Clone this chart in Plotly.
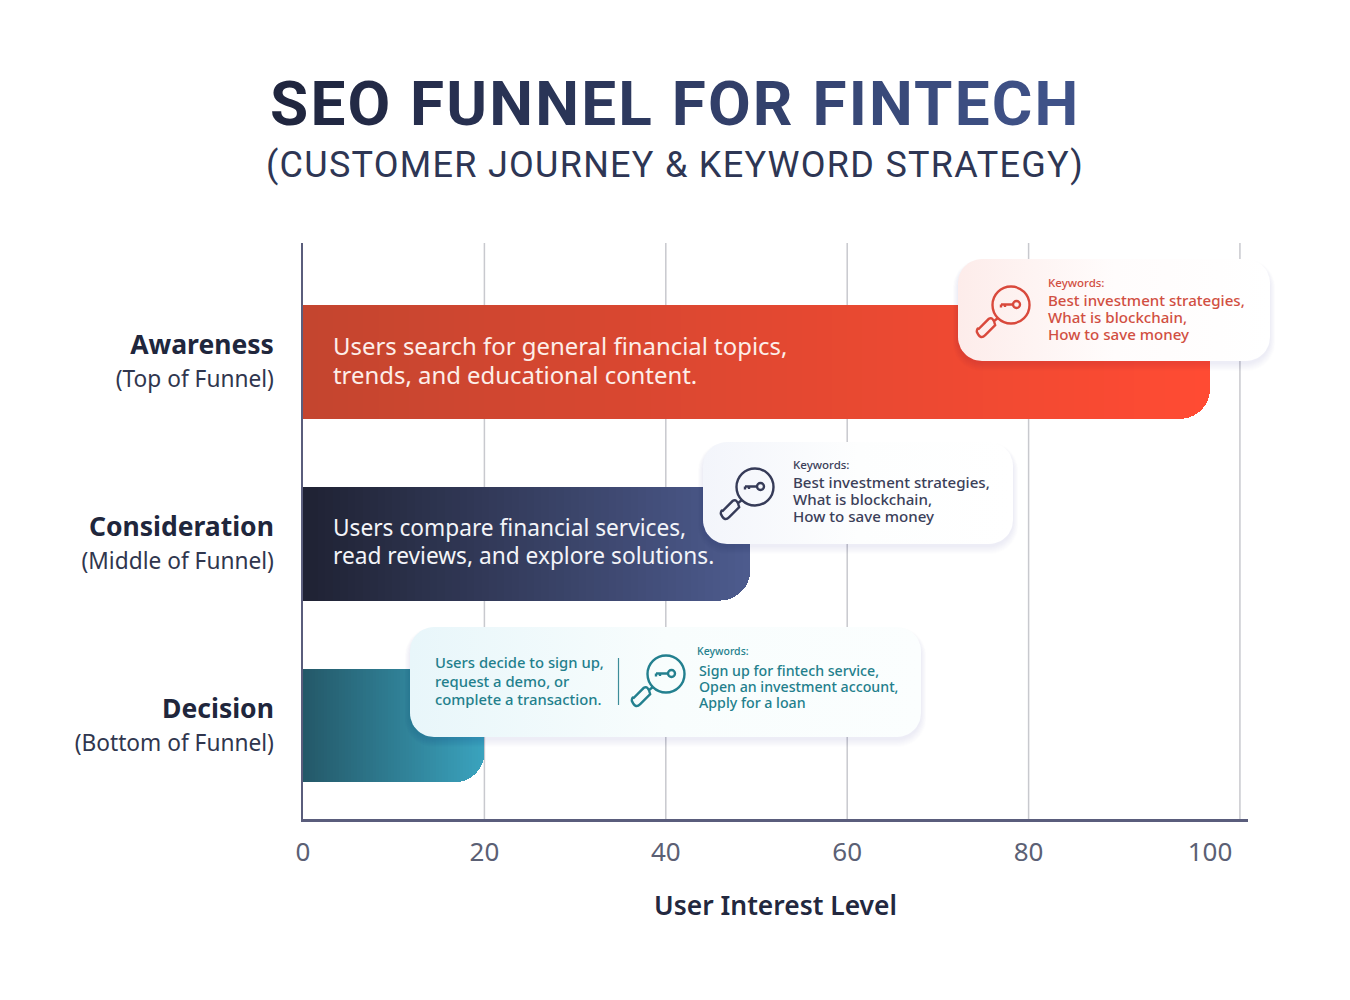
import numpy as np
import plotly.graph_objects as go

# ---- data ----
stages = ["Awareness", "Consideration", "Decision"]
funnel_parts = ["(Top of Funnel)", "(Middle of Funnel)", "(Bottom of Funnel)"]
interest_values = [100, 49.3, 20]
x_ticks = [0, 20, 40, 60, 80, 100]
grid_values = [20, 40, 60, 80, 103.3]
axis_title = "User Interest Level"
title_text = "SEO FUNNEL FOR FINTECH"
subtitle_text = "(CUSTOMER JOURNEY & KEYWORD STRATEGY)"
awareness_text = ["Users search for general financial topics,", "trends, and educational content."]
consideration_text = ["Users compare financial services,", "read reviews, and explore solutions."]
decision_text = ["Users decide to sign up,", "request a demo, or", "complete a transaction."]
keywords_a = ["Best investment strategies,", "What is blockchain,", "How to save money"]
keywords_c = ["Best investment strategies,", "What is blockchain,", "How to save money"]
keywords_d = ["Sign up for fintech service,", "Open an investment account,", "Apply for a loan"]

FONT = "Noto Sans"
W, H = 1350, 1000
L, R, T, B = 303, 1248, 243, 819
SCALE = 9.07
N_SEG = 60


def hexrgb(c):
    return np.array([int(c[i:i + 2], 16) for i in (1, 3, 5)], float)


def mix(a, b, t):
    v = hexrgb(a) * (1 - t) + hexrgb(b) * t
    return "rgb(%d,%d,%d)" % tuple(v.round())


bar_grad = [("#c4452f", "#ff4b33"), ("#1f2233", "#4d5b8e"), ("#245868", "#3aa3be")]

fig = go.Figure()

# gradient bars: stacked slices of each value
for i in range(N_SEG):
    t = (i + 0.5) / N_SEG
    fig.add_trace(go.Bar(
        y=stages, x=[v / N_SEG for v in interest_values], orientation="h",
        marker=dict(color=[mix(a, b, t) for a, b in bar_grad], line=dict(width=0)),
        hoverinfo="skip", showlegend=False, xaxis="x", yaxis="y",
    ))


def rrect(x0, y0, x1, y1, r):
    pts = []
    for cx, cy, a0 in ((x1 - r, y0 + r, -90), (x1 - r, y1 - r, 0), (x0 + r, y1 - r, 90), (x0 + r, y0 + r, 180)):
        for a in np.radians(np.linspace(a0, a0 + 90, 14)):
            pts.append((cx + r * np.cos(a), cy + r * np.sin(a)))
    pts.append(pts[0])
    return [p[0] for p in pts], [p[1] for p in pts]


def card(x0, y0, x1, y1, c0, c1, r=24):
    for k in range(9, 0, -1):
        xs, ys = rrect(x0 - k * 0.6, y0 - k * 0.3 + 3, x1 + k * 0.6, y1 + k * 0.9 + 2, r + k * 0.5)
        fig.add_trace(go.Scatter(x=xs, y=ys, mode="lines", fill="toself", line=dict(width=0),
                                 fillcolor="rgba(50,60,90,0.007)", hoverinfo="skip", showlegend=False,
                                 xaxis="x2", yaxis="y2"))
    xs, ys = rrect(x0, y0, x1, y1, r)
    fig.add_trace(go.Scatter(x=xs, y=ys, mode="lines", fill="toself", line=dict(width=0),
                             fillgradient=dict(type="horizontal", start=x0, stop=x1,
                                               colorscale=[[0, c0], [0.5, mix(c0, c1, 0.85)], [1, c1]]),
                             hoverinfo="skip", showlegend=False, xaxis="x2", yaxis="y2"))


card(958, 259, 1270, 361, "#fdecea", "#ffffff")
card(703, 442, 1013, 544, "#f3f5fb", "#ffffff")
card(410, 627, 921, 737, "#e8f6fa", "#fbfefe")

annotations = []


def text(x, y, s, size, color, weight=400, family=FONT, anchor="left"):
    annotations.append(dict(x=x, y=y, xref="x2", yref="y2", text=s, showarrow=False, xanchor=anchor,
                            yanchor="middle", align=anchor, xshift=-2 if anchor == "left" else 0,
                            font=dict(family=family, size=size, color=color, weight=weight)))


def block(x, y_first, y_last, lines, size, color, weight=400):
    """Several lines in one annotation; the base font sets the line spacing, the spans the glyph size."""
    spacing = (y_last - y_first) / (len(lines) - 1)
    body = "<br>".join(f'<span style="font-size:{size}px">{s}</span>' for s in lines)
    text(x, (y_first + y_last) / 2, body, spacing / 1.3, color, weight)


shapes = []
# grid lines in data coordinates
for g in grid_values:
    shapes.append(dict(type="line", xref="x", yref="y domain", x0=g, x1=g, y0=0, y1=1, layer="below",
                       line=dict(color="#c8c9ce", width=1.5)))


def icon(cx, cy, color):
    ln = dict(color=color, width=2.4)
    base = dict(xref="x2", yref="y2", layer="above", line=ln)
    r = 18.5
    shapes.append(dict(type="circle", x0=cx - r, x1=cx + r, y0=cy - r, y1=cy + r, **base))
    shapes.append(dict(type="circle", x0=cx + 2, x1=cx + 9, y0=cy - 4, y1=cy + 3, **base))
    shapes.append(dict(type="path", path=f"M{cx-10},{cy-0.5} L{cx+2},{cy-0.5} M{cx-10},{cy-0.5} L{cx-10},{cy+2.5} M{cx-6},{cy-0.5} L{cx-6},{cy+2}", **base))
    shapes.append(dict(type="path", path=f"M{cx-13},{cy+13} L{cx-17},{cy+16}", **base))
    # capsule handle
    ax, ay, bx, by = cx - 19, cy + 17, cx - 29, cy + 27
    nx, ny = 3.2, 3.2
    dx, dy = -5, 5
    p = (f"M{ax+nx},{ay+ny} L{bx+nx},{by+ny} Q{bx+nx+dx},{by+ny+dy} {bx-nx+dx*0.4},{by-ny+dy*0.4+1} "
         f"Q{bx-nx+dx*0.2-1},{by-ny-1} {bx-nx},{by-ny} L{ax-nx},{ay-ny} Q{ax+1},{ay-6} {ax+nx},{ay+ny} Z")
    shapes.append(dict(type="path", path=p, **base))


RED, SLATE, TEAL = "#d14f42", "#3b4059", "#237f8c"
icon(1011, 305, "#d9493c")
icon(755, 487, "#363b58")
icon(666, 674, "#23808f")
shapes.append(dict(type="line", xref="x2", yref="y2", x0=618.5, x1=618.5, y0=658, y1=705, layer="above",
                   line=dict(color="#3d8d99", width=1.2)))

block(333, 345, 374, awareness_text, 23.9, "#fdeee9")
block(333, 527, 555, consideration_text, 22.7, "#f3f4f8")

text(1048, 282, "Keywords:", 11.5, RED, 500)
block(1048, 300, 334, keywords_a, 15.1, RED, 500)
text(793, 464, "Keywords:", 11.5, SLATE, 500)
block(793, 482, 516, keywords_c, 15.1, SLATE, 500)
block(435, 662, 699, decision_text, 14.8, TEAL, 500)
text(697, 651, "Keywords:", 10.5, TEAL, 500)
block(699, 670, 702, keywords_d, 14.2, TEAL, 500)

# gradient title
spans = []
for i, ch in enumerate(title_text):
    spans.append(f'<span style="letter-spacing:2.2px;color:{mix("#20263f", "#3f5288", i / (len(title_text) - 1))}">{ch}</span>')
text(675, 103, "".join(spans), 62, "#20263f", 700, "Roboto", "center")
text(675, 165, f'<span style="letter-spacing:1.27px">{subtitle_text.replace("&", "&amp;")}</span>', 36, "#2e3654", 400, "Roboto", "center")

ticktext = [f'<b><span style="font-size:26.5px">{a}</span></b><br><span style="font-size:22.7px;color:#30364e">{b}</span>'
            for a, b in zip(stages, funnel_parts)]

fig.update_layout(
    width=W, height=H, margin=dict(l=0, r=0, t=0, b=0, pad=0, autoexpand=False),
    paper_bgcolor="white", plot_bgcolor="rgba(0,0,0,0)", showlegend=False,
    barmode="stack", bargap=0.374, barcornerradius=30,
    shapes=shapes, annotations=annotations,
    font=dict(family=FONT),
    xaxis=dict(domain=[L / W, R / W], range=[0, (R - L) / SCALE], tickmode="array", tickvals=x_ticks,
               showgrid=False, zeroline=False, showline=True, linecolor="#5a5d7c", linewidth=3,
               ticks="", ticklabelstandoff=8, tickfont=dict(size=26, color="#5b6074", family=FONT),
               title=dict(text=axis_title, standoff=29, font=dict(size=26.4, color="#23283f", family=FONT, weight=600))),
    yaxis=dict(domain=[1 - B / H, 1 - T / H], type="category", categoryorder="array", categoryarray=stages,
               range=[2.514, -0.654], tickmode="array", tickvals=stages, ticktext=ticktext,
               showgrid=False, zeroline=False, showline=True, linecolor="#5a5d7c", linewidth=2,
               ticks="", ticklabelstandoff=22, tickfont=dict(size=25.4, color="#20263c", family=FONT)),
    xaxis2=dict(domain=[0, 1], range=[0, W], visible=False, anchor="y2", fixedrange=True),
    yaxis2=dict(domain=[0, 1], range=[H, 0], visible=False, anchor="x2", fixedrange=True),
)

fig.write_html("out.html", config=dict(displayModeBar=False),
               post_script="document.body.style.margin='0';document.body.style.overflow='hidden';")
